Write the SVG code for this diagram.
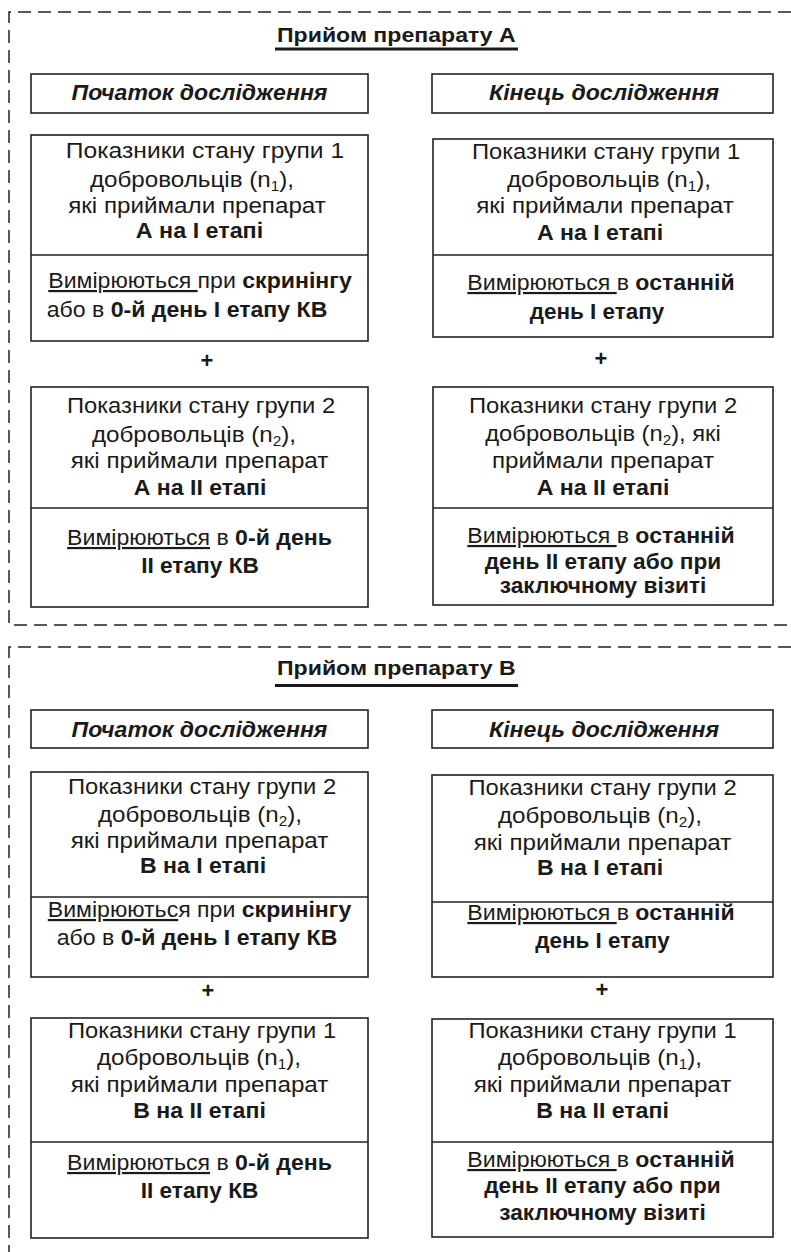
<svg xmlns="http://www.w3.org/2000/svg" width="791" height="1252" viewBox="0 0 791 1252">
<style>
.t{font-family:"Liberation Sans",Arial,sans-serif;font-size:22px;fill:#1a1a1a;text-anchor:middle}
.b{font-weight:bold}
.u{text-decoration:underline}
.h{font-family:"Liberation Sans",Arial,sans-serif;font-size:22px;font-weight:bold;font-style:italic;fill:#1a1a1a;text-anchor:middle}
.ttl{font-family:"Liberation Sans",Arial,sans-serif;font-size:21px;font-weight:bold;fill:#1a1a1a}
.box{fill:#fff;stroke:#222;stroke-width:1.6}
.div{stroke:#222;stroke-width:1.6}
.frame{fill:none;stroke:#222;stroke-width:1.5;stroke-dasharray:13 7}
.sub{font-size:14px}
</style>
<rect width="791" height="1252" fill="#fff"/>
<g id="frames">
<path class="frame" d="M791,12 H9 V625 H791"/>
<path class="frame" d="M791,647 H9 V1252"/>
</g>
<g id="titleA">
<text class="ttl" transform="translate(277,42) scale(1.1,1)">Прийом препарату А</text>
<rect x="275" y="47.5" width="243" height="3" fill="#1a1a1a"/>
</g>
<g id="headA-start">
<rect class="box" x="31" y="74" width="337" height="39"/>
<text class="h" transform="translate(199.5,100) scale(1.05,1)">Початок дослідження</text>
</g>
<g id="headA-end">
<rect class="box" x="432" y="74" width="341" height="39"/>
<text class="h" transform="translate(604,100) scale(1.05,1)">Кінець дослідження</text>
</g>
<g id="A-L1">
<rect class="box" x="31" y="135" width="337" height="206"/>
<line class="div" x1="31" y1="255" x2="368" y2="255"/>
<text class="t" transform="translate(205,158) scale(1.12,1)">Показники стану групи 1</text>
<text class="t" transform="translate(192,187) scale(1.1,1)">добровольців (n<tspan class="sub" dy="4">1</tspan><tspan dy="-4">),</tspan></text>
<text class="t" transform="translate(197,213) scale(1.1,1)">які приймали препарат</text>
<text class="t b" transform="translate(199.5,238) scale(1.06,1)">А на І етапі</text>
<text class="t" transform="translate(200,288) scale(1.05,1)"><tspan class="u">Вимірюються </tspan>при <tspan class="b">скринінгу</tspan></text>
<text class="t" transform="translate(187,317) scale(1.05,1)">або в <tspan class="b">0-й день І етапу КВ</tspan></text>
</g>
<g id="A-R1">
<rect class="box" x="433" y="139" width="340" height="198"/>
<line class="div" x1="433" y1="255" x2="773" y2="255"/>
<text class="t" transform="translate(606,159) scale(1.08,1)">Показники стану групи 1</text>
<text class="t" transform="translate(609,187) scale(1.1,1)">добровольців (n<tspan class="sub" dy="4">1</tspan><tspan dy="-4">),</tspan></text>
<text class="t" transform="translate(605,213) scale(1.1,1)">які приймали препарат</text>
<text class="t b" transform="translate(600,240) scale(1.05,1)">А на І етапі</text>
<text class="t" transform="translate(601,290) scale(1.05,1)"><tspan class="u">Вимірюються </tspan>в <tspan class="b">останній</tspan></text>
<text class="t b" transform="translate(597,319) scale(1.02,1)">день І етапу</text>
</g>
<g id="A-L2">
<rect class="box" x="31" y="387" width="337" height="220"/>
<line class="div" x1="31" y1="508" x2="368" y2="508"/>
<text class="t" transform="translate(201,413) scale(1.08,1)">Показники стану групи 2</text>
<text class="t" transform="translate(194,442) scale(1.1,1)">добровольців (n<tspan class="sub" dy="4">2</tspan><tspan dy="-4">),</tspan></text>
<text class="t" transform="translate(199.5,468) scale(1.1,1)">які приймали препарат</text>
<text class="t b" transform="translate(200,495) scale(1.05,1)">А на ІІ етапі</text>
<text class="t" transform="translate(199.5,545) scale(1.05,1)"><tspan class="u">Вимірюються</tspan> в <tspan class="b">0-й день</tspan></text>
<text class="t b" transform="translate(200,573) scale(1.03,1)">ІІ етапу КВ</text>
</g>
<g id="A-R2">
<rect class="box" x="433" y="387" width="340" height="218"/>
<line class="div" x1="433" y1="508" x2="773" y2="508"/>
<text class="t" transform="translate(603,413) scale(1.08,1)">Показники стану групи 2</text>
<text class="t" transform="translate(603,441) scale(1.08,1)">добровольців (n<tspan class="sub" dy="4">2</tspan><tspan dy="-4">), які</tspan></text>
<text class="t" transform="translate(603,468) scale(1.1,1)">приймали препарат</text>
<text class="t b" transform="translate(603,495) scale(1.05,1)">А на ІІ етапі</text>
<text class="t" transform="translate(601,543) scale(1.05,1)"><tspan class="u">Вимірюються </tspan>в <tspan class="b">останній</tspan></text>
<text class="t b" transform="translate(603,569) scale(1.03,1)">день ІІ етапу або при</text>
<text class="t b" transform="translate(603,593) scale(1.03,1)">заключному візиті</text>
</g>
<g id="titleB">
<text class="ttl" transform="translate(277,675) scale(1.1,1)">Прийом препарату В</text>
<rect x="275" y="684" width="243" height="3" fill="#1a1a1a"/>
</g>
<g id="headB-start">
<rect class="box" x="31" y="710" width="337" height="38"/>
<text class="h" transform="translate(199.5,737) scale(1.05,1)">Початок дослідження</text>
</g>
<g id="headB-end">
<rect class="box" x="432" y="710" width="341" height="38"/>
<text class="h" transform="translate(604,737) scale(1.05,1)">Кінець дослідження</text>
</g>
<g id="B-L1">
<rect class="box" x="31" y="772" width="337" height="205"/>
<line class="div" x1="31" y1="897" x2="368" y2="897"/>
<text class="t" transform="translate(202,794) scale(1.08,1)">Показники стану групи 2</text>
<text class="t" transform="translate(200,822) scale(1.1,1)">добровольців (n<tspan class="sub" dy="4">2</tspan><tspan dy="-4">),</tspan></text>
<text class="t" transform="translate(199.5,848) scale(1.1,1)">які приймали препарат</text>
<text class="t b" transform="translate(203,873) scale(1.05,1)">В на І етапі</text>
<text class="t" transform="translate(199.5,917) scale(1.05,1)"><tspan class="u">Вимірюютьс</tspan>я при <tspan class="b">скринінгу</tspan></text>
<text class="t" transform="translate(197,945) scale(1.05,1)">або в <tspan class="b">0-й день І етапу КВ</tspan></text>
</g>
<g id="B-R1">
<rect class="box" x="432" y="775" width="341" height="202"/>
<line class="div" x1="432" y1="902" x2="773" y2="902"/>
<text class="t" transform="translate(602.5,795) scale(1.08,1)">Показники стану групи 2</text>
<text class="t" transform="translate(600,823) scale(1.1,1)">добровольців (n<tspan class="sub" dy="4">2</tspan><tspan dy="-4">),</tspan></text>
<text class="t" transform="translate(602.5,850) scale(1.1,1)">які приймали препарат</text>
<text class="t b" transform="translate(600,875) scale(1.05,1)">В на І етапі</text>
<text class="t" transform="translate(601,920) scale(1.05,1)"><tspan class="u">Вимірюються </tspan>в <tspan class="b">останній</tspan></text>
<text class="t b" transform="translate(602.5,948) scale(1.02,1)">день І етапу</text>
</g>
<g id="B-L2">
<rect class="box" x="31" y="1018" width="337" height="220"/>
<line class="div" x1="31" y1="1142" x2="368" y2="1142"/>
<text class="t" transform="translate(202,1038) scale(1.08,1)">Показники стану групи 1</text>
<text class="t" transform="translate(199,1065) scale(1.1,1)">добровольців (n<tspan class="sub" dy="4">1</tspan><tspan dy="-4">),</tspan></text>
<text class="t" transform="translate(199.5,1092) scale(1.1,1)">які приймали препарат</text>
<text class="t b" transform="translate(199.5,1118) scale(1.05,1)">В на ІІ етапі</text>
<text class="t" transform="translate(199.5,1170) scale(1.05,1)"><tspan class="u">Вимірюються</tspan> в <tspan class="b">0-й день</tspan></text>
<text class="t b" transform="translate(199.5,1198) scale(1.03,1)">ІІ етапу КВ</text>
</g>
<g id="B-R2">
<rect class="box" x="432" y="1019" width="341" height="218"/>
<line class="div" x1="432" y1="1142" x2="773" y2="1142"/>
<text class="t" transform="translate(602.5,1038) scale(1.08,1)">Показники стану групи 1</text>
<text class="t" transform="translate(600,1065) scale(1.1,1)">добровольців (n<tspan class="sub" dy="4">1</tspan><tspan dy="-4">),</tspan></text>
<text class="t" transform="translate(602.5,1092) scale(1.1,1)">які приймали препарат</text>
<text class="t b" transform="translate(602.5,1118) scale(1.05,1)">В на ІІ етапі</text>
<text class="t" transform="translate(601,1167) scale(1.05,1)"><tspan class="u">Вимірюються </tspan>в <tspan class="b">останній</tspan></text>
<text class="t b" transform="translate(602.5,1193) scale(1.03,1)">день ІІ етапу або при</text>
<text class="t b" transform="translate(602.5,1220) scale(1.03,1)">заключному візиті</text>
</g>
<g id="connectors">
<text class="t b" transform="translate(207,368)">+</text>
<text class="t b" transform="translate(601,366)">+</text>
<text class="t b" transform="translate(208,998)">+</text>
<text class="t b" transform="translate(602,997)">+</text>
</g>
</svg>
